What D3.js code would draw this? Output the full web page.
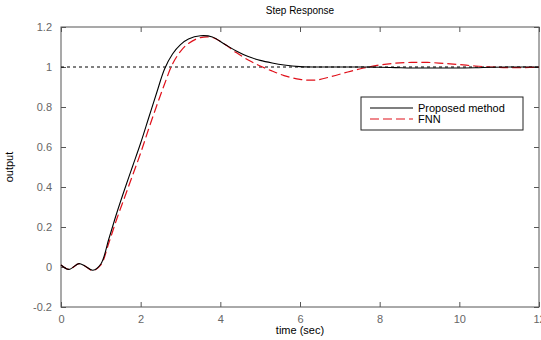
<!DOCTYPE html>
<html>
<head>
<meta charset="utf-8">
<script src="https://cdn.jsdelivr.net/npm/d3@7"></script>
<style>
  body { margin: 0; background: #fff; }
  svg text { font-family: "Liberation Sans", Arial, sans-serif; }
</style>
</head>
<body>
<svg id="chart" width="541" height="340"></svg>
<script>
// step response samples
var time = [0, 0.2, 0.45, 0.6, 0.8, 1.0, 1.2, 1.4, 1.6, 1.8, 2.0, 2.2, 2.4, 2.6, 2.8, 3.0, 3.2, 3.5, 3.8, 4.1, 4.4, 4.7, 5.0, 5.3, 5.6, 6.0, 6.4, 6.8, 7.2, 7.6, 8.0, 8.4, 8.8, 9.2, 9.6, 10.0, 10.4, 10.8, 11.2, 11.6, 12];
var proposed = [0.01, -0.012, 0.017, 0.005, -0.016, 0.015, 0.14, 0.27, 0.39, 0.505, 0.62, 0.745, 0.87, 0.99, 1.065, 1.112, 1.14, 1.156, 1.15, 1.115, 1.08, 1.052, 1.033, 1.02, 1.01, 1.002, 1.0, 1.0, 1.0, 1.0, 0.999, 0.997, 0.995, 0.995, 0.995, 0.995, 0.996, 0.999, 1.0, 1.0, 1.0];
var fnn = [0.01, -0.012, 0.017, 0.005, -0.018, 0.01, 0.12, 0.24, 0.35, 0.46, 0.57, 0.69, 0.805, 0.915, 1.015, 1.078, 1.118, 1.147, 1.148, 1.115, 1.072, 1.035, 1.005, 0.98, 0.957, 0.938, 0.935, 0.953, 0.975, 0.995, 1.01, 1.019, 1.023, 1.023, 1.018, 1.012, 1.005, 1.0, 0.997, 0.997, 0.999];
var xTicks = [0, 2, 4, 6, 8, 10, 12];
var yTicks = [-0.2, 0, 0.2, 0.4, 0.6, 0.8, 1, 1.2];
var seriesNames = ["Proposed method", "FNN"];

var svg = d3.select('#chart');
var plotLeft = 61, plotRight = 539, plotTop = 27, plotBottom = 307;

var x = d3.scaleLinear().domain([0, 12]).range([plotLeft, plotRight]);
var y = d3.scaleLinear().domain([-0.2, 1.2]).range([plotBottom, plotTop]);

var axisColor = "#555";

// frame
svg.append('rect')
    .attr('x', plotLeft).attr('y', plotTop)
    .attr('width', plotRight - plotLeft).attr('height', plotBottom - plotTop)
    .attr('fill', 'none').attr('stroke', axisColor).attr('stroke-width', 1);

function styleAxis(g) {
    g.select('.domain').remove();
    g.selectAll('line').attr('stroke', axisColor);
    g.selectAll('text').attr('fill', '#666').style('font-size', '11px');
}

svg.append('g')
    .attr('transform', `translate(0,${plotBottom})`)
    .call(d3.axisBottom(x).tickValues(xTicks).tickSize(-5).tickPadding(8).tickFormat(d3.format('d')))
    .call(styleAxis);
svg.append('g')
    .attr('transform', `translate(0,${plotTop})`)
    .call(d3.axisTop(x).tickValues(xTicks).tickSize(-5).tickFormat(''))
    .call(styleAxis);
svg.append('g')
    .attr('transform', `translate(${plotLeft},0)`)
    .call(d3.axisLeft(y).tickValues(yTicks).tickSize(-5).tickPadding(9).tickFormat(d => String(+d.toFixed(1))))
    .call(styleAxis);
svg.append('g')
    .attr('transform', `translate(${plotRight},0)`)
    .call(d3.axisRight(y).tickValues(yTicks).tickSize(-5).tickFormat(''))
    .call(styleAxis);

// reference line at 1
svg.append('line')
    .attr('x1', x(0)).attr('x2', x(12))
    .attr('y1', y(1)).attr('y2', y(1))
    .attr('stroke', '#000').attr('stroke-width', 1)
    .attr('stroke-dasharray', '3,3');

var line = d3.line()
    .x((d, i) => x(time[i]))
    .y(d => y(d))
    .curve(d3.curveCatmullRom);

svg.append('path')
    .datum(fnn)
    .attr('d', line)
    .attr('fill', 'none')
    .attr('stroke', '#e0101a')
    .attr('stroke-width', 1.2)
    .attr('stroke-dasharray', '9,4');

svg.append('path')
    .datum(proposed)
    .attr('d', line)
    .attr('fill', 'none')
    .attr('stroke', '#000')
    .attr('stroke-width', 1.1);

// labels
svg.append('text')
    .attr('x', 300).attr('y', 14)
    .attr('text-anchor', 'middle')
    .style('font-size', '10px')
    .text('Step Response');
svg.append('text')
    .attr('x', 300).attr('y', 334)
    .attr('text-anchor', 'middle')
    .style('font-size', '11px')
    .text('time (sec)');
svg.append('text')
    .attr('transform', 'translate(13,167) rotate(-90)')
    .attr('text-anchor', 'middle')
    .style('font-size', '11px')
    .text('output');

// legend
var legend = svg.append('g');
legend.append('rect')
    .attr('x', 361).attr('y', 97)
    .attr('width', 162).attr('height', 33)
    .attr('fill', '#fff').attr('stroke', '#222').attr('stroke-width', 1);

var legendStyles = [
    {color: '#000', dash: null},
    {color: '#e0101a', dash: '9,4'}
];
seriesNames.forEach((name, i) => {
    var ly = 108 + i * 11;
    legend.append('line')
        .attr('x1', 370).attr('x2', 413)
        .attr('y1', ly).attr('y2', ly)
        .attr('stroke', legendStyles[i].color)
        .attr('stroke-width', 1.1)
        .attr('stroke-dasharray', legendStyles[i].dash);
    legend.append('text')
        .attr('x', 418).attr('y', ly + 4)
        .style('font-size', '11px')
        .text(name);
});
</script>
</body>
</html>
